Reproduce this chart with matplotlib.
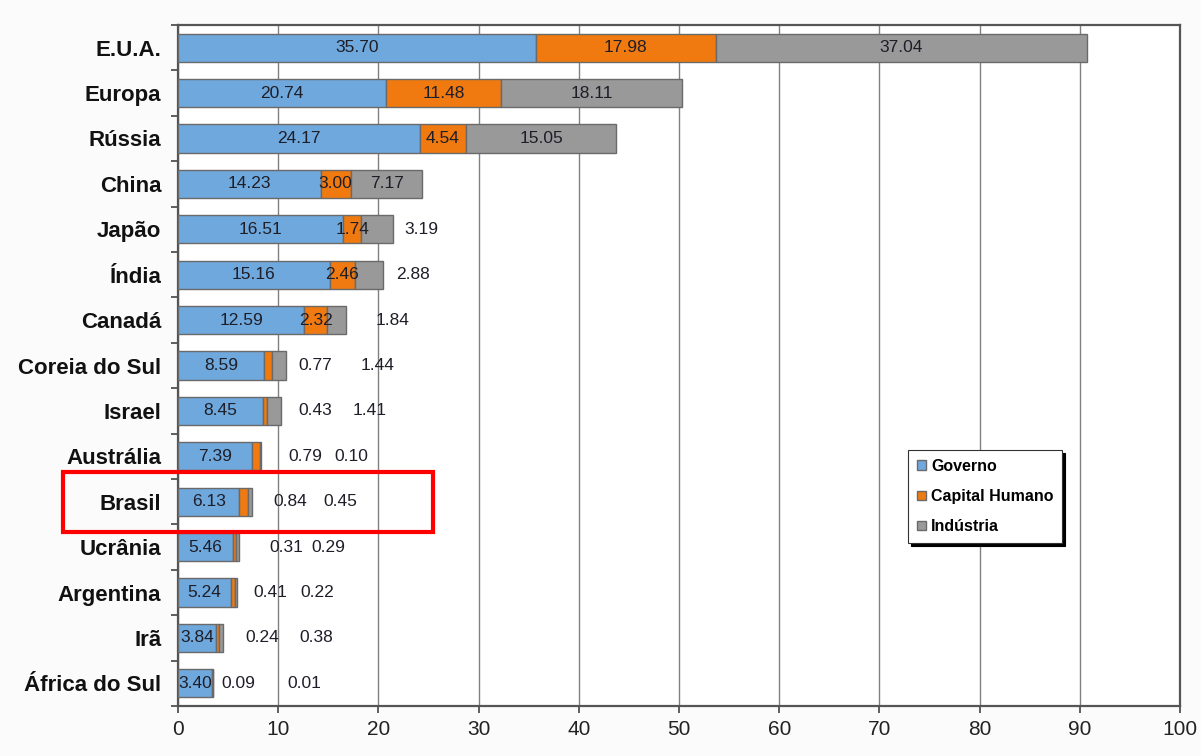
import matplotlib.pyplot as plt
import matplotlib.patches as mpatches
import numpy as np

plt.rcParams['font.family'] = ['Liberation Sans', 'DejaVu Sans']

# Data
paises = ['E.U.A.', 'Europa', 'Rússia', 'China', 'Japão', 'Índia', 'Canadá',
          'Coreia do Sul', 'Israel', 'Austrália', 'Brasil', 'Ucrânia',
          'Argentina', 'Irã', 'África do Sul']
governo = [35.70, 20.74, 24.17, 14.23, 16.51, 15.16, 12.59, 8.59, 8.45,
           7.39, 6.13, 5.46, 5.24, 3.84, 3.40]
capital_humano = [17.98, 11.48, 4.54, 3.00, 1.74, 2.46, 2.32, 0.77, 0.43,
                  0.79, 0.84, 0.31, 0.41, 0.24, 0.09]
industria = [37.04, 18.11, 15.05, 7.17, 3.19, 2.88, 1.84, 1.44, 1.41,
             0.10, 0.45, 0.29, 0.22, 0.38, 0.01]

# where labels were pushed outside the bar (None = centred in segment)
capital_label_x = [None] * 7 + [13.7, 13.7, 12.7, 11.2, 10.8, 9.2, 8.4, 6.05]
industria_label_x = [None, None, None, None, 24.25, 23.5, 21.4, 19.9, 19.1,
                     17.25, 16.2, 15.0, 13.85, 13.8, 12.6]

cor_gov = '#6fa8dc'
cor_cap = '#f07a10'
cor_ind = '#999999'
borda = '#6a6a6a'

fig = plt.figure(figsize=(12.01, 7.56), dpi=100, facecolor='#fbfbfb')
ax = fig.add_axes([178 / 1201, 1 - 706 / 756, 1002 / 1201, 681 / 756])

y = np.arange(len(paises))
gov = np.array(governo)
cap = np.array(capital_humano)
ind = np.array(industria)
h = 0.62

ax.barh(y, gov, height=h, color=cor_gov, edgecolor=borda, linewidth=1, label='Governo', zorder=3)
ax.barh(y, cap, left=gov, height=h, color=cor_cap, edgecolor=borda, linewidth=1, label='Capital Humano', zorder=3)
ax.barh(y, ind, left=gov + cap, height=h, color=cor_ind, edgecolor=borda, linewidth=1, label='Indústria', zorder=3)

txt = dict(fontsize=12.5, color='#1e1e28', ha='center', va='center', zorder=5)
for i in range(len(paises)):
    ax.text(gov[i] / 2, y[i], f'{gov[i]:.2f}', **txt)
    xc = capital_label_x[i] if capital_label_x[i] is not None else gov[i] + cap[i] / 2
    ax.text(xc, y[i], f'{cap[i]:.2f}', **txt)
    xi = industria_label_x[i] if industria_label_x[i] is not None else gov[i] + cap[i] + ind[i] / 2
    ax.text(xi, y[i], f'{ind[i]:.2f}', **txt)

ax.set_xlim(0, 100)
ax.set_ylim(len(paises) - 0.5, -0.5)
ax.set_xticks(np.arange(0, 101, 10))
ax.set_yticks(y)
ax.set_yticklabels(paises, fontsize=16, fontweight='bold', color='#111111')
ax.tick_params(axis='y', length=0, pad=12)
ax.set_yticks(np.arange(-0.5, len(paises), 1), minor=True)
ax.tick_params(axis='y', which='minor', length=5, width=1.2, color='#444444', direction='out')
ax.tick_params(axis='x', labelsize=15, length=5, width=1.2, color='#444444', labelcolor='#222222', pad=5)

ax.grid(axis='x', color='#808080', linewidth=1, zorder=0)
ax.set_axisbelow(True)
for s in ax.spines.values():
    s.set_color('#555555')
    s.set_linewidth(1.6)
ax.set_facecolor('white')

leg = ax.legend(loc='upper left', bbox_to_anchor=(0.7285, 0.3759),
                prop={'weight': 'bold', 'size': 11.5}, frameon=True, fancybox=False,
                edgecolor='#333333', framealpha=1, handlelength=0.55, handleheight=0.55,
                handletextpad=0.35, labelspacing=0.95, borderpad=0.55, borderaxespad=0,
                shadow={'color': 'black', 'alpha': 1})
leg.get_frame().set_linewidth(0.8)

# red highlight around Brasil
ib = paises.index('Brasil')
rect = mpatches.Rectangle((-11.5, ib - 0.66), 36.95, 1.32, fill=False, edgecolor='#ff0000',
                          linewidth=3, clip_on=False, zorder=6)
ax.add_patch(rect)

fig.savefig('out.png', dpi=100, facecolor=fig.get_facecolor())
